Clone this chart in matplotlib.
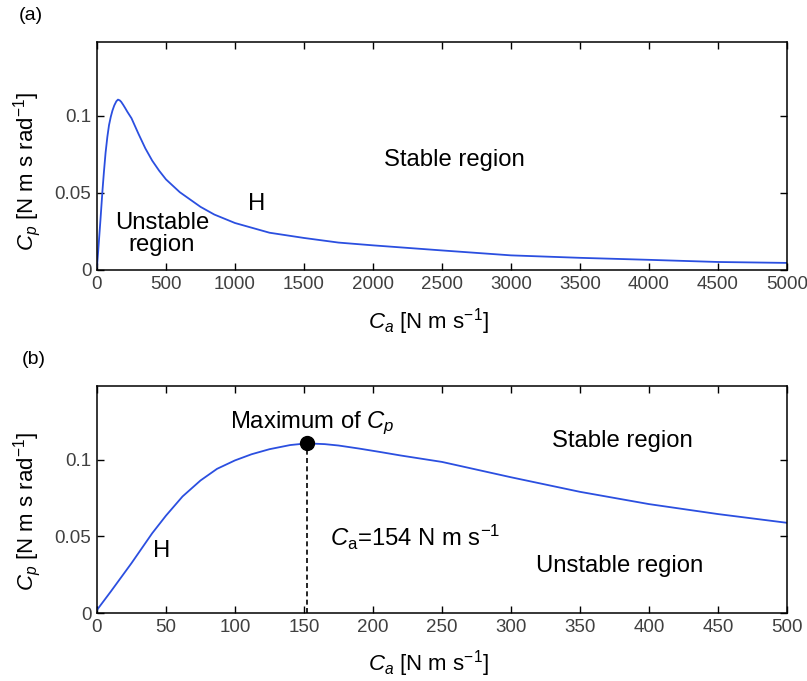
import numpy as np
import matplotlib.pyplot as plt

plt.rcParams['font.family'] = ['Liberation Sans', 'DejaVu Sans']
plt.rcParams['mathtext.fontset'] = 'custom'
plt.rcParams['mathtext.rm'] = 'Liberation Sans'
plt.rcParams['mathtext.it'] = 'Liberation Sans:italic'

# --- data ---
# Ca [N m s^-1] and Cp [N m s rad^-1]
ca = [0, 10, 25, 40, 50, 62, 75, 87, 100, 112, 125, 140, 152, 165, 175, 190, 205, 220,
      250, 275, 300, 350, 400, 450, 500,
      600, 750, 850, 1000, 1250, 1500, 1750, 2000, 2500, 3000, 3500, 4000, 4500, 5000]
cp = [0.002, 0.014, 0.0325, 0.052, 0.0635, 0.076, 0.0864, 0.094, 0.0995, 0.1035, 0.1068,
      0.1095, 0.1106, 0.1101, 0.1092, 0.1072, 0.105, 0.1027,
      0.0985, 0.0935, 0.0885, 0.0790, 0.0710, 0.0645, 0.0588,
      0.0505, 0.041, 0.036, 0.0305, 0.0242, 0.0208, 0.0178, 0.016, 0.0127, 0.0095,
      0.0079, 0.0066, 0.0052, 0.0046]
peak_ca = 152
peak_cp = 0.1106

xticks_a = [0, 500, 1000, 1500, 2000, 2500, 3000, 3500, 4000, 4500, 5000]
xticks_b = [0, 50, 100, 150, 200, 250, 300, 350, 400, 450, 500]
yticks = [0, 0.05, 0.1]
yticklabels = ['0', '0.05', '0.1']

W, H = 807, 681
fig = plt.figure(figsize=(W / 100, H / 100), dpi=100)

line_col = '#2b4fe0'
tick_col = '#404040'
ann_fs = 17.2
lab_fs = 16


def make_axes(left, top, right, bottom):
    ax = fig.add_axes([left / W, 1 - bottom / H, (right - left) / W, (bottom - top) / H])
    ax.tick_params(direction='in', top=True, right=True, length=5, width=1,
                   labelsize=13.5, labelcolor=tick_col, pad=4)
    for s in ax.spines.values():
        s.set_linewidth(1.1)
    ax.set_ylim(0, 0.148)
    ax.set_yticks(yticks)
    ax.set_yticklabels(yticklabels)
    return ax


def set_labels(ax, top, bottom, xlab_y, ylab_y):
    h = bottom - top
    ax.set_xlabel(r'$C_a$ [N m s$^{\mathrm{-1}}$]', fontsize=lab_fs, va='center')
    ax.xaxis.set_label_coords((428 - 97) / 690, -(xlab_y - bottom) / h)
    ax.set_ylabel(r'$C_p$ [N m s rad$^{\mathrm{-1}}$]', fontsize=lab_fs, va='center')
    ax.yaxis.set_label_coords(-(97 - 27) / 690, (bottom - ylab_y) / h)


# --- (a) ---
ax1 = make_axes(97, 42, 787, 270)
ax1.plot(ca, cp, color=line_col, lw=1.3)
ax1.set_xlim(0, 5000)
ax1.set_xticks(xticks_a)
set_labels(ax1, 42, 270, 322, 171)
fig.text(454 / W, 1 - 160 / H, 'Stable region', fontsize=ann_fs, ha='center', va='center')
fig.text(162 / W, 1 - 234 / H, 'Unstable\nregion', fontsize=ann_fs, ha='center', va='center',
         linespacing=1.05)
fig.text(257 / W, 1 - 204 / H, 'H', fontsize=ann_fs, ha='center', va='center')
fig.text(19 / W, 1 - 16 / H, '(a)', fontsize=14, ha='left', va='center')

# --- (b) ---
ax2 = make_axes(97, 386, 787, 613)
ax2.plot(ca, cp, color=line_col, lw=1.3)
ax2.set_xlim(0, 500)
ax2.set_xticks(xticks_b)
set_labels(ax2, 386, 613, 664, 511)
ax2.plot([peak_ca, peak_ca], [0, peak_cp], color='black', lw=1.2, ls=(0, (3, 2)))
ax2.plot(peak_ca, peak_cp, 'o', color='black', ms=10)
fig.text(312 / W, 1 - 423 / H, r'Maximum of $C_p$', fontsize=ann_fs, ha='center', va='center')
fig.text(330 / W, 1 - 537 / H, r'$C_{\mathrm{a}}$=154 N m s$^{\mathrm{-1}}$', fontsize=ann_fs,
         ha='left', va='center')
fig.text(622 / W, 1 - 441 / H, 'Stable region', fontsize=ann_fs, ha='center', va='center')
fig.text(620 / W, 1 - 566 / H, 'Unstable region', fontsize=ann_fs, ha='center', va='center')
fig.text(162 / W, 1 - 551 / H, 'H', fontsize=ann_fs, ha='center', va='center')
fig.text(22 / W, 1 - 360 / H, '(b)', fontsize=14, ha='left', va='center')

fig.savefig('out.png', dpi=100)
